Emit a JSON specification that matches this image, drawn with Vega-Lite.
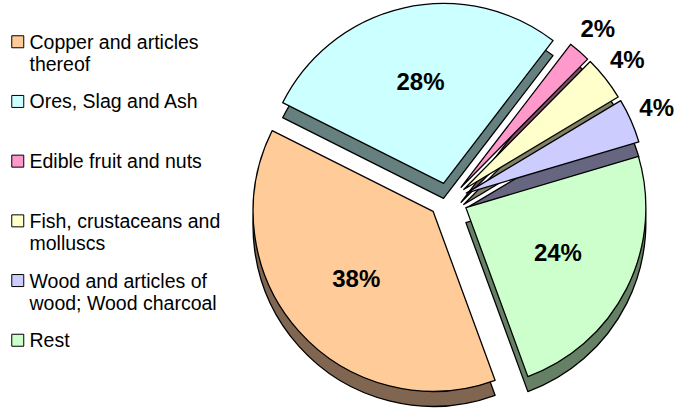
{
  "$schema": "https://vega.github.io/schema/vega-lite/v6.json",
  "width": 678,
  "height": 408,
  "autosize": {"type": "none"},
  "padding": 0,
  "background": "white",
  "config": {"view": {"stroke": null}},
  "data": {
    "values": [
      {"category": "Copper and articles thereof", "share": 0.38},
      {"category": "Ores, Slag and Ash", "share": 0.28},
      {"category": "Edible fruit and nuts", "share": 0.02},
      {"category": "Fish, crustaceans and molluscs", "share": 0.04},
      {"category": "Wood and articles of wood; Wood charcoal", "share": 0.04},
      {"category": "Rest", "share": 0.24}
    ]
  },
  "transform": [
    {"stack": "share", "groupby": [], "as": ["s0", "s1"]},
    {"calculate": "(datum.s0 + datum.s1) / 2", "as": "mid"},
    {"calculate": "2.79 + 2 * PI * datum.mid", "as": "ang"},
    {"calculate": "sin(datum.ang)", "as": "ex"},
    {"calculate": "-cos(datum.ang)", "as": "ey"}
  ],
  "encoding": {
    "x": {"field": "ex", "type": "quantitative", "axis": null,
          "scale": {"domain": [-22.4, 11.5], "range": [0, 678], "zero": false, "nice": false}},
    "y": {"field": "ey", "type": "quantitative", "axis": null,
          "scale": {"domain": [-11.765, 12.235], "range": [0, 408], "zero": false, "nice": false}}
  },
  "layer": [
    {
      "mark": {"type": "arc", "radius": 180, "yOffset": 15, "stroke": "black", "strokeWidth": 1.3, "strokeJoin": "round"},
      "encoding": {
        "theta": {"field": "s0", "type": "quantitative", "stack": null,
                  "scale": {"domain": [0, 1], "range": [2.79, 9.0732]}},
        "theta2": {"field": "s1"},
        "color": {"field": "category", "type": "nominal", "legend": null,
                  "scale": {"domain": ["Copper and articles thereof", "Ores, Slag and Ash", "Edible fruit and nuts", "Fish, crustaceans and molluscs", "Wood and articles of wood; Wood charcoal", "Rest"],
                            "range": ["#806650", "#668080", "#804D66", "#808066", "#666680", "#668066"]}}
      }
    },
    {
      "mark": {"type": "arc", "radius": 180, "stroke": "black", "strokeWidth": 1.3, "strokeJoin": "round"},
      "encoding": {
        "theta": {"field": "s0", "type": "quantitative", "stack": null,
                  "scale": {"domain": [0, 1], "range": [2.79, 9.0732]}},
        "theta2": {"field": "s1"},
        "color": {"field": "category", "type": "nominal",
                  "scale": {"domain": ["Copper and articles thereof", "Ores, Slag and Ash", "Edible fruit and nuts", "Fish, crustaceans and molluscs", "Wood and articles of wood; Wood charcoal", "Rest"],
                            "range": ["#FFCC99", "#CCFFFF", "#FF99CC", "#FFFFCC", "#CCCCFF", "#CCFFCC"]},
                  "legend": {
                    "title": null,
                    "orient": "none",
                    "legendX": 8,
                    "legendY": 32,
                    "padding": 0,
                    "symbolType": "square",
                    "symbolSize": 144,
                    "symbolStrokeColor": "black",
                    "symbolStrokeWidth": 1,
                    "labelFont": "Liberation Sans",
                    "labelFontSize": 19.5,
                    "labelColor": "black",
                    "labelBaseline": "alphabetic",
                    "labelOffset": 2,
                    "labelLimit": 300,
                    "rowPadding": 16.7,
                    "labelExpr": "datum.label == 'Copper and articles thereof' ? ['Copper and articles', 'thereof'] : datum.label == 'Fish, crustaceans and molluscs' ? ['Fish, crustaceans and', 'molluscs'] : datum.label == 'Wood and articles of wood; Wood charcoal' ? ['Wood and articles of', 'wood; Wood charcoal'] : [datum.label, ' ']",
                    "encode": {"labels": {"update": {"dy": {"value": 7}, "lineHeight": {"value": 22}}}}
                  }}
      }
    },
    {
      "transform": [{"filter": "datum.share >= 0.1"}],
      "mark": {"type": "text", "radius": 103, "font": "Liberation Sans", "fontWeight": "bold", "fontSize": 24, "color": "black", "align": "center", "baseline": "middle"},
      "encoding": {
        "theta": {"field": "mid", "type": "quantitative", "stack": null},
        "text": {"field": "share", "type": "quantitative", "format": ".0%"}
      }
    },
    {
      "transform": [{"filter": "datum.share < 0.1"}],
      "mark": {"type": "text", "radius": 208, "font": "Liberation Sans", "fontWeight": "bold", "fontSize": 24, "color": "black", "align": "center", "baseline": "middle"},
      "encoding": {
        "theta": {"field": "mid", "type": "quantitative", "stack": null},
        "text": {"field": "share", "type": "quantitative", "format": ".0%"}
      }
    }
  ],
  "resolve": {"scale": {"color": "independent"}}
}
